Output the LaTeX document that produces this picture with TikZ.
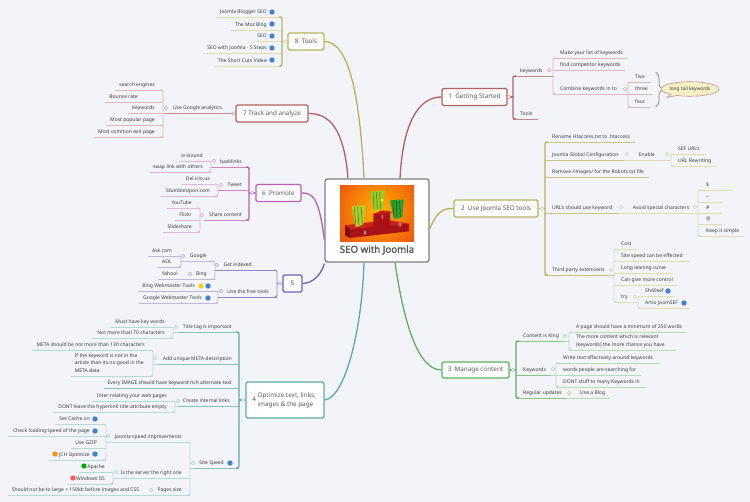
\documentclass[tikz,border=0pt]{standalone}
\usepackage{fontspec}
\usepackage{xcolor}
\setmainfont{Noto Sans}
\newfontfamily\titlefont[FakeBold=1.6]{Noto Sans}
\usetikzlibrary{shapes.callouts,decorations.pathreplacing}
\definecolor{bg}{HTML}{F2F4FA}
\definecolor{ink}{HTML}{3C3C3C}
\definecolor{corered}{HTML}{B5605F}
\definecolor{coreolive}{HTML}{B5B35C}
\definecolor{coregreen}{HTML}{5FAE60}
\definecolor{coreteal}{HTML}{5EAAA8}
\definecolor{coreindigo}{HTML}{6A62B8}
\definecolor{corepurple}{HTML}{B860B5}
\definecolor{linkblue}{HTML}{3F84D4}
\definecolor{calloutfill}{HTML}{F5F1C5}
\definecolor{stage}{HTML}{E8340F}
\definecolor{glow}{HTML}{FFB400}
\definecolor{podfront}{HTML}{A81318}
\definecolor{podtop}{HTML}{C9201C}
\definecolor{podside}{HTML}{7A0B10}
\definecolor{grasslime}{HTML}{A5C62A}
\definecolor{grassyellow}{HTML}{B9C832}
\definecolor{grassgreen}{HTML}{349C34}
\tikzset{
    col/.code = {\colorlet{cur}{#1}},
    pads/.style 2 args = {execute at begin node={\hspace*{#1pt}}, execute at end node={\hspace*{#2pt}}},
    item/.style = {font=\fontsize{5}{7.5}\selectfont, text=ink, inner sep=0pt, text height=4pt, text depth=3.4pt},
    ul2/.style = {append after command={(\tikzlastnode.south west) edge[draw=cur!75!white, line width=.9pt] (\tikzlastnode.south east)}},
    ul3/.style = {append after command={(\tikzlastnode.south west) edge[draw=cur!45!white, line width=.8pt] (\tikzlastnode.south east)}},
    r2/.style 2 args = {item, anchor=south west, pads={#1}{#2}, ul2},
    r3/.style 2 args = {item, anchor=south west, pads={#1}{#2}, ul3},
    l2/.style 2 args = {item, anchor=south east, pads={#1}{#2}, ul2},
    l3/.style 2 args = {item, anchor=south east, pads={#1}{#2}, ul3},
    rb/.style = {to path={([xshift=3pt]\tikztostart.south west) -- (\tikztostart.south west) -- (\tikztotarget.south west) -- ([xshift=3pt]\tikztotarget.south west)}},
    lb/.style = {to path={([xshift=-3pt]\tikztostart.south east) -- (\tikztostart.south east) -- (\tikztotarget.south east) -- ([xshift=-3pt]\tikztotarget.south east)}},
    br1/.style = {draw=cur, line width=1.3pt, rounded corners=2pt},
    br2/.style = {draw=cur!75!white, line width=.9pt, rounded corners=2pt},
    br3/.style = {draw=cur!45!white, line width=.8pt, rounded corners=2pt},
    topic/.style = {draw=cur, fill=white, line width=1.3pt, rounded corners=1.5pt, text=ink!85!white, font=\fontsize{6.3}{8.8}\selectfont, inner sep=0pt},
    spine/.style = {line width=1.3pt, draw=cur},
    knob/.style = {circle, draw=cur!55!white, fill=bg, line width=.6pt, inner sep=0pt, minimum size=3.4pt},
    ico/.style = {circle, fill=#1, inner sep=0pt, minimum size=5.4pt},
    ico/.default = linkblue,
    tag/.style = {rounded corners=1pt, fill=#1, inner sep=0pt, minimum size=4.6pt},
    podnum/.style = {font=\titlefont\fontsize{4.5}{5}\selectfont, text=white!75!red, inner sep=0pt},
}

\begin{document}
\begin{tikzpicture}[x=1pt,y=-1pt]
\useasboundingbox (0,0) rectangle (750,502);
\fill[bg] (0,0) rectangle (750,502);

% central picture and title
\node[draw=gray, fill=white, line width=1.3pt, rounded corners=2.5pt, minimum width=104pt, minimum height=83pt, inner sep=0pt] (hub) at (377,220.5) {};
\begin{scope}[shift={(335,182)},scale=1/3]
\begin{scope}
\clip (15,12) rectangle (237,180);
\fill[stage] (15,12) rectangle (237,180);
\shade[inner color=glow, outer color=stage] (130,85) circle (190);
\end{scope}
\fill[podside] (30,130) -- (45,140) -- (45,168) -- (30,160) -- cycle;
\fill[podfront] (45,140) -- (222,125) -- (222,148) -- (45,168) -- cycle;
\fill[podtop] (30,130) -- (112,120) -- (165,115) -- (222,125) -- (45,140) -- cycle;
\fill[podfront] (115,95) -- (165,90) -- (165,133) -- (115,138) -- cycle;
\fill[podtop] (112,98) -- (140,85) -- (175,90) -- (165,93) -- (115,97) -- cycle;
\fill[grassgreen] (165,55) -- (207,52) -- (202,105) -- (178,112) -- cycle;
\fill[grasslime] (105,28) -- (150,25) -- (142,80) -- (118,88) -- cycle;
\fill[yellow] (140,55) circle (5);
\fill[grassyellow] (50,72) -- (92,70) -- (85,128) -- (62,136) -- cycle;
\foreach \sx in {58,68,78} \draw[green!55!black, line width=.5pt] (\sx,75) -- (\sx+4,128);
\foreach \sx in {114,124,134} \draw[green!55!black, line width=.5pt] (\sx,30) -- (\sx+3,80);
\foreach \sx in {174,184,194} \draw[green!35!black, line width=.5pt] (\sx,57) -- (\sx+2,105);
\end{scope}
\node[podnum] (num1) at (382.5,217) {1};
\node[podnum] (num2) at (400,224.5) {2};
\node[podnum] (num3) at (365,232.5) {3};
\node[font=\titlefont\fontsize{9.7}{11}\selectfont, text=ink!85!white, inner sep=0pt] (title) at (377,250) {SEO with Joomla};

% 1 Getting Started
\begin{scope}[col=corered]
\node[topic, minimum width=65pt, minimum height=17pt] (t1) at (474.5,97) {1~~Getting Started};
\draw[spine] (t1.west) .. controls (420,97) and (403,120) .. ([xshift=23pt]hub.north);
\node[r2={7}{4}] (kwd) at (513,76) {keywords};
\node[r2={7}{5}] (tools) at (513,119) {Tools};
\draw[spine] (t1.east) -- (kwd.south west |- t1.east);
\draw[br1] (kwd) to[rb] (tools);
\node[r3={7}{5}] (make) at (553,58) {Make your list of keywords};
\node[r3={7}{5}] (find) at (553,70) {find competitor keywords};
\node[r3={7}{4}] (comb) at (553,94) {Combine keywords in to};
\draw[br3] (make) to[rb] (comb);
\draw[br2] (kwd.south east) -- (make.south west |- kwd.south east);
\node[r3={7}{6}] (two) at (628,82) {Two};
\node[r3={7}{5}] (three) at (628,94) {three};
\node[r3={7}{5}] (four) at (628,107) {four};
\draw[br3] (two) to[rb] (four);
\draw[br3] (comb.south east) -- (three.south west);
\node[knob] (k1) at (509,97) {};
\node[knob] (k1a) at (549,70) {};
\node[knob] (k1b) at (625,89) {};
\coordinate (bracetop) at (655.5,72);
\coordinate (bracebot) at (655.5,107);
\draw[gray, line width=.7pt, decorate, decoration={brace, amplitude=7pt}] (bracetop) -- (bracebot);
\node[ellipse callout, callout absolute pointer={(667,97.5)}, draw=cur!70!white, fill=calloutfill, line width=.6pt, inner sep=0pt, minimum width=48pt, minimum height=14.5pt, font=\fontsize{4.8}{6}\selectfont, text=ink] (tail) at (690,89) {long tail keywords};
\end{scope}

% 2 Use Joomla SEO tools
\begin{scope}[col=coreolive]
\node[topic, minimum width=84pt, minimum height=17pt] (t2) at (496,208.5) {2~~Use Joomla SEO tools};
\draw[spine] ([yshift=-8.5pt]hub.east) .. controls (438,209) and (445,208.5) .. (t2.west);
\node[r2={7}{5}] (htac) at (545,142) {Rename Htaccess.txt to .htaccess};
\node[r2={7}{5}] (jgc) at (545,160) {Joomla Global Configuration};
\node[r2={7}{5}] (robo) at (545,177) {Remove /images/ for the Robots.txt file};
\node[r2={7}{5}] (url) at (545,213) {URL's should use keyword};
\node[r2={7}{10}] (third) at (545,275) {Third party extensions};
\draw[spine] (t2.east) -- (htac.south west |- t2.east);
\draw[br1] (htac) to[rb] (third);
\node[r3={15}{5}] (enable) at (jgc.south east) {Enable};
\node[r3={7}{5}] (sef) at (671,154) {SEF URL's};
\node[r3={7}{6}] (rewr) at (671,166) {URL Rewriting};
\draw[br3] (sef) to[rb] (rewr);
\draw[br3] (enable.south east) -- (sef.south west |- enable.south east);
\node[r3={15}{5}] (avoid) at (url.south east) {Avoid special characters};
\node[r3={8}{24}] (dollar) at (698,190) {\$};
\node[r3={8}{14}] (tilde) at (698,202) {\textasciitilde};
\node[r3={8}{12}] (hash) at (698,213) {\#};
\node[r3={8}{11}] (at) at (698,224) {@};
\node[r3={8}{5}] (simple) at (698,236) {Keep it simple};
\draw[br3] (dollar) to[rb] (simple);
\draw[br3] (avoid.south east) -- (hash.south west);
\node[r3={7}{5}] (cost) at (614,249) {Cost};
\node[r3={7}{6}] (speed) at (614,261) {Site speed can be effected};
\node[r3={7}{7}] (curve) at (614,273) {Long leaning curve};
\node[r3={7}{5}] (ctrl) at (614,285) {Can give more control};
\node[r3={7}{5}] (try) at (614,302) {try};
\draw[br3] (cost) to[rb] (try);
\draw[br3] (third.south east) -- (cost.south west |- third.south east);
\node[r3={7}{10}] (shsef) at (638,296) {Sh40sef};
\node[r3={7}{12}] (artio) at (638,308) {Artio JoomSEF};
\draw[br3] (shsef) to[rb] (artio);
\draw[br3] (try.south east) -- (shsef.south west |- try.south east);
\node[ico] (i2a) at (668,291) {};
\node[ico] (i2b) at (684,303) {};
\node[knob] (k2) at (542,208.5) {};
\node[knob] (k2a) at (627,154) {};
\node[knob] (k2b) at (667,154) {};
\node[knob] (k2c) at (621,207) {};
\node[knob] (k2d) at (695,207) {};
\node[knob] (k2e) at (611,270) {};
\node[knob] (k2f) at (635,297) {};
\end{scope}

% 3 Manage content
\begin{scope}[col=coregreen]
\node[topic, minimum width=67pt, minimum height=16pt] (t3) at (475.5,370) {3~~Manage content};
\draw[spine] ([xshift=18pt]hub.south) .. controls (402,310) and (415,370) .. (t3.west);
\node[r2={7}{5}] (king) at (516,341) {Content is King};
\node[r2={7}{5}] (kw3) at (516,375) {Keywords};
\node[r2={7}{5}] (upd) at (516,398) {Regular updates};
\draw[spine] (t3.east) -- (king.south west |- t3.east);
\draw[br1] (king) to[rb] (upd);
\node[r3={7}{4}] (min) at (569,332) {A page should have a minimum of 250 words};
\node[r3={7}{6}] (more) at (569,350) {\parbox[b]{94pt}{\raggedright The more content which is relevant\\(keywords) the more chance you have}};
\draw[br3] (min) to[rb] (more);
\draw[br3] (king.south east) -- (min.south west |- king.south east);
\node[r3={7}{7}] (write) at (556,363) {Write text effectively around keywords};
\node[r3={7}{5}] (people) at (556,375) {words people are searching for};
\node[r3={7}{6}] (stuff) at (556,387) {DONT stuff to many Keywords in};
\draw[br3] (write) to[rb] (stuff);
\draw[br3] (kw3.south east) -- (people.south west);
\node[r3={13}{5}] (blog) at (upd.south east) {Use a Blog};
\node[knob] (k3) at (513,370) {};
\node[knob] (k3a) at (565,336) {};
\node[knob] (k3b) at (553,369) {};
\node[knob] (k3c) at (569,393) {};
\end{scope}

% 4 Optimize text, links, images & the page
\begin{scope}[col=coreteal]
\node[topic, minimum width=78pt, minimum height=36pt] (t4) at (285,400) {4~\parbox[c]{60pt}{\raggedright Optimize text, links,\\images \& the page}};
\draw[spine] (t4.east) .. controls (345,398) and (362,330) .. ([xshift=-13pt]hub.south);
\node[l2={5}{7}] (ttag) at (239,332) {Title tag is important};
\node[l2={5}{7}] (meta) at (239,364) {Add unique META description};
\node[l2={3}{7}] (alt) at (239,388) {Every IMAGE should have keyword-rich alternate text};
\node[l2={5}{9}] (intl) at (239,406) {Create internal links};
\node[l2={5}{15}] (site) at (239,468) {Site Speed};
\draw[spine] (t4.west) -- (ttag.south east |- t4.west);
\draw[br1] (ttag) to[lb] (site);
\node[l3={5}{8}] (must) at (173,327) {Must have key words};
\node[l3={5}{8}] (not70) at (173,338) {Not more than 70 characters};
\draw[br3] (must) to[lb] (not70);
\draw[br3] (ttag.south west) -- (must.south east |- ttag.south west);
\node[l3={4}{8}] (m130) at (153,350) {META should be not more than 130 characters};
\node[l3={4}{8}] (nogood) at (153,376) {\parbox[b]{70pt}{\raggedright If the keyword is not in the\\article than its no good in the\\META data}};
\draw[br3] (m130) to[lb] (nogood);
\draw[br3] (meta.south west) -- (m130.south east |- meta.south west);
\node[l3={5}{8}] (inter) at (175,401) {Inter-relating your web pages};
\node[l3={5}{8}] (dont) at (175,412) {DONT leave the hyperlink title attribute empty};
\draw[br3] (inter) to[lb] (dont);
\draw[br3] (intl.south west) -- (inter.south east |- intl.south west);
\node[l3={5}{8}] (jsi) at (190,442) {Joomla speed improvements};
\node[l3={5}{8}] (serv) at (190,478) {Is the server the right one};
\node[l3={5}{8}] (psize) at (190,495) {Pages size};
\draw[br3] (jsi) to[lb] (psize);
\draw[br3] (site.south west) -- (jsi.south east |- site.south west);
\node[l3={4}{16}] (cache) at (106,424) {Set Cache on};
\node[l3={5}{16}] (check) at (106,436) {Check loading speed of the page};
\node[l3={4}{9}] (gzip) at (106,448) {Use GZIP};
\node[l3={10}{16}] (jch) at (106,460) {JCH Optimize};
\draw[br3] (cache) to[lb] (jch);
\draw[br3] (jsi.south west) -- (gzip.south east |- jsi.south west);
\node[l3={8}{8}] (apache) at (113,472) {Apache};
\node[l3={9}{8}] (iis) at (113,484) {Windows IIS};
\draw[br3] (apache) to[lb] (iis);
\draw[br3] (serv.south west) -- (iis.south east |- serv.south west);
\node[l3={4}{13}] (large) at (psize.south west) {Should not be to large < 150kb before images and CSS};
\node[ico] (i4a) at (230,463) {};
\node[ico] (i4b) at (95,419) {};
\node[ico] (i4c) at (95,431) {};
\node[ico] (i4d) at (95,454) {};
\node[ico=orange!85!yellow] (i4e) at (55,454) {};
\node[tag=green!65!black] (i4f) at (84,466) {};
\node[tag=red!65!white] (i4g) at (73,478) {};
\node[knob] (k4) at (243,400) {};
\node[knob] (k4a) at (176,327) {};
\node[knob] (k4b) at (155,358) {};
\node[knob] (k4c) at (178,401) {};
\node[knob] (k4d) at (193,463) {};
\node[knob] (k4e) at (108,436) {};
\node[knob] (k4f) at (116,472) {};
\node[knob] (k4g) at (151,490) {};
\end{scope}

% 5
\begin{scope}[col=coreindigo]
\node[topic, minimum width=19pt, minimum height=17pt] (t5) at (292.5,283.5) {5};
\draw[spine] (t5.east) .. controls (315,283) and (322,272) .. ([yshift=-1pt]hub.south west);
\node[l2={5}{25}] (index) at (277,270) {Get indexed};
\node[l2={5}{8}] (free) at (277,297) {Use the free tools};
\draw[spine] (t5.west) -- (index.south east |- t5.west);
\draw[br2] (index) to[lb] (free);
\node[l3={5}{8}] (goog) at (215,261) {Google};
\node[l3={7}{8}] (bing) at (215,279) {Bing};
\draw[br3] (goog) to[lb] (bing);
\draw[br2] (index.south west) -- (goog.south east |- index.south west);
\node[l3={4}{9}] (ask) at (181,256) {Ask.com};
\node[l3={4}{9}] (aol) at (181,267) {AOL};
\draw[br3] (ask) to[lb] (aol);
\draw[br3] (goog.south west) -- (ask.south east |- goog.south west);
\node[l3={4}{11}] (yahoo) at (bing.south west) {Yahoo!};
\node[l3={4}{23}] (bwt) at (218,291) {Bing Webmaster Tools};
\node[l3={4}{16}] (gwt) at (218,303) {Google Webmaster Tools};
\draw[br3] (bwt) to[lb] (gwt);
\draw[br2] (free.south west) -- (bwt.south east |- free.south west);
\node[tag=yellow!70!orange] (i5a) at (201,286) {};
\node[ico] (i5b) at (208,286) {};
\node[ico] (i5c) at (208,298) {};
\node[knob] (k5) at (280,283.5) {};
\node[knob] (k5a) at (217,265) {};
\node[knob] (k5b) at (183,256) {};
\node[knob] (k5c) at (190,274) {};
\node[knob] (k5d) at (221,291) {};
\end{scope}

% 6 Promote
\begin{scope}[col=corepurple]
\node[topic, minimum width=45pt, minimum height=17pt] (t6) at (278.5,193) {6~~Promote};
\draw[spine] (t6.east) .. controls (312,193) and (319,196) .. ([yshift=-19.5pt]hub.west);
\node[l2={5}{7}] (back) at (249,167) {backlinks};
\node[l2={5}{7}] (tweet) at (249,190) {Tweet};
\node[l2={5}{7}] (share) at (249,220) {Share content};
\draw[spine] (t6.west) -- (back.south east |- t6.west);
\draw[br1] (back) to[lb] (share);
\node[l3={2}{8}] (inb) at (211,161) {in-bound};
\node[l3={3}{8}] (swap) at (211,172) {swap link with others};
\draw[br3] (inb) to[lb] (swap);
\draw[br2] (back.south west) -- (inb.south east |- back.south west);
\node[l3={4}{8}] (deli) at (218,184) {Del.icio.us};
\node[l3={5}{8}] (stum) at (218,196) {StumbleUpon.com};
\draw[br3] (deli) to[lb] (stum);
\draw[br2] (tweet.south west) -- (deli.south east |- tweet.south west);
\node[l3={4}{8}] (yt) at (200,208) {YouTube};
\node[l3={4}{8}] (flickr) at (200,220) {Flickr};
\node[l3={4}{8}] (slide) at (200,232) {Slideshare};
\draw[br3] (yt) to[lb] (slide);
\node[knob] (k6) at (252,193) {};
\node[knob] (k6a) at (214,161) {};
\node[knob] (k6b) at (221,185) {};
\node[knob] (k6c) at (202,215) {};
\end{scope}

% 7 Track and analyze
\begin{scope}[col=corered]
\node[topic, minimum width=72pt, minimum height=17pt] (t7) at (272,113.5) {7~Track and analyze};
\draw[spine] (t7.east) .. controls (335,113) and (345,140) .. ([xshift=-29pt]hub.north);
\node[l2={9}{10}] (ana) at (232,113.5) {Use Google analytics};
\draw[spine] (t7.west) -- (ana.south east);
\node[l3={4}{8}] (srch) at (163,90) {search engines};
\node[l3={4}{25}] (bnc) at (163,102) {Bounce rate};
\node[l3={4}{8}] (kw7) at (163,113.5) {Keywords};
\node[l3={4}{8}] (popu) at (163,125) {Most popular page};
\node[l3={4}{8}] (exit) at (163,137) {Most common exit page};
\draw[br3] (srch) to[lb] (exit);
\node[knob] (k7) at (233,113.5) {};
\node[knob] (k7a) at (166,108) {};
\end{scope}

% 8 Tools
\begin{scope}[col=coreolive]
\node[topic, minimum width=36pt, minimum height=17pt] (t8) at (306,41.5) {8~~Tools};
\draw[spine] (t8.east) .. controls (350,42) and (360,100) .. ([xshift=-13pt]hub.north);
\node[l3={4}{15}] (blogger) at (282,17) {Joomla Blogger SEO};
\node[l3={4}{15}] (moz) at (282,30) {The Moz Blog};
\node[l3={4}{15}] (seo) at (282,41.5) {SEO};
\node[l3={4}{15}] (steps) at (282,53) {SEO with Joomla - 5 Steps};
\node[l3={4}{15}] (cuts) at (282,66) {The Short Cuts Video};
\draw[spine] (t8.west) -- (seo.south east);
\draw[br1] (blogger) to[lb] (cuts);
\node[ico] (i8a) at (272,12) {};
\node[ico] (i8b) at (272,24) {};
\node[ico] (i8c) at (272,36) {};
\node[ico] (i8d) at (272,48) {};
\node[ico] (i8e) at (272,60) {};
\node[knob] (k8) at (285,41.5) {};
\end{scope}
\end{tikzpicture}
\end{document}
